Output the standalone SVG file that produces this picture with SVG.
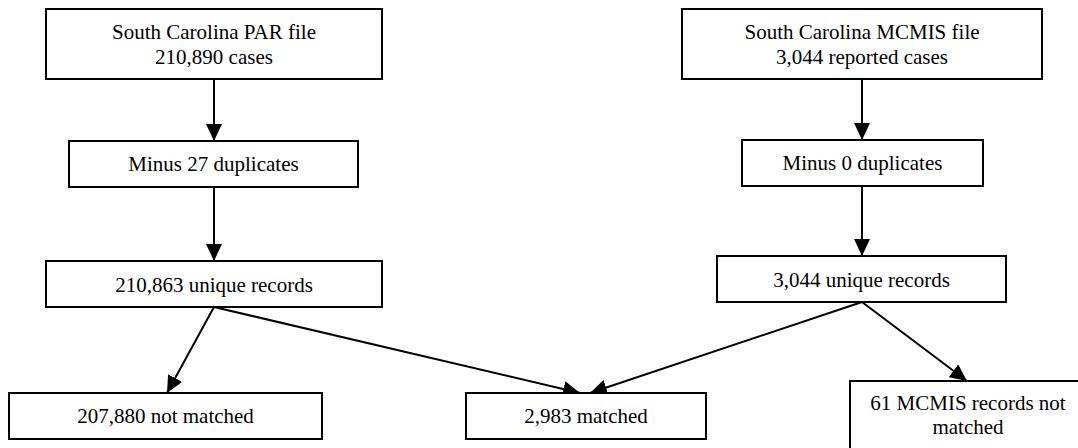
<svg xmlns="http://www.w3.org/2000/svg" width="1078" height="448" viewBox="0 0 1078 448">
<style>
.box{fill:#fff;stroke:#000;stroke-width:2}
.t{font-family:"Liberation Serif","Times New Roman","DejaVu Serif",serif;font-size:21px;fill:#000;text-anchor:middle}
.c{stroke:#000;stroke-width:2;fill:none;marker-end:url(#ah)}
</style>
<defs>
<marker id="ah" markerUnits="userSpaceOnUse" markerWidth="17" markerHeight="16" refX="17" refY="8" orient="auto">
<path d="M0,0 L17,8 L0,16 z" fill="#000"/>
</marker>
</defs>
<rect width="1078" height="448" fill="#fff"/>
<g id="connectors">
<line class="c" x1="214" y1="79" x2="214" y2="141"/>
<line class="c" x1="214" y1="187" x2="214" y2="261"/>
<line class="c" x1="862" y1="79" x2="862" y2="140"/>
<line class="c" x1="862" y1="186" x2="862" y2="256"/>
<line class="c" x1="214" y1="307" x2="167" y2="393"/>
<line class="c" x1="214" y1="307" x2="580" y2="393"/>
<line class="c" x1="862" y1="302" x2="590" y2="393"/>
<line class="c" x1="862" y1="302" x2="967" y2="381"/>
</g>
<g id="par-file">
<rect class="box" x="46" y="9" width="336" height="70"/>
<text class="t" x="214" y="39">South Carolina PAR file</text>
<text class="t" x="214" y="64">210,890 cases</text>
</g>
<g id="mcmis-file">
<rect class="box" x="682" y="9" width="360" height="70"/>
<text class="t" x="862" y="39">South Carolina MCMIS file</text>
<text class="t" x="862" y="64">3,044 reported cases</text>
</g>
<g id="par-dup">
<rect class="box" x="69" y="141" width="289" height="46"/>
<text class="t" x="213.5" y="171">Minus 27 duplicates</text>
</g>
<g id="mcmis-dup">
<rect class="box" x="742" y="140" width="241" height="46"/>
<text class="t" x="862.5" y="170">Minus 0 duplicates</text>
</g>
<g id="par-unique">
<rect class="box" x="46" y="261" width="336" height="46"/>
<text class="t" x="214" y="292">210,863 unique records</text>
</g>
<g id="mcmis-unique">
<rect class="box" x="717" y="256" width="289" height="46"/>
<text class="t" x="861.5" y="287">3,044 unique records</text>
</g>
<g id="par-not-matched">
<rect class="box" x="9" y="393" width="313" height="46"/>
<text class="t" x="165.5" y="423">207,880 not matched</text>
</g>
<g id="matched">
<rect class="box" x="466" y="393" width="240" height="46"/>
<text class="t" x="586" y="423">2,983 matched</text>
</g>
<g id="mcmis-not-matched">
<rect class="box" x="850" y="381" width="240" height="72"/>
<text class="t" x="968" y="410">61 MCMIS records not</text>
<text class="t" x="968" y="434">matched</text>
</g>
</svg>
